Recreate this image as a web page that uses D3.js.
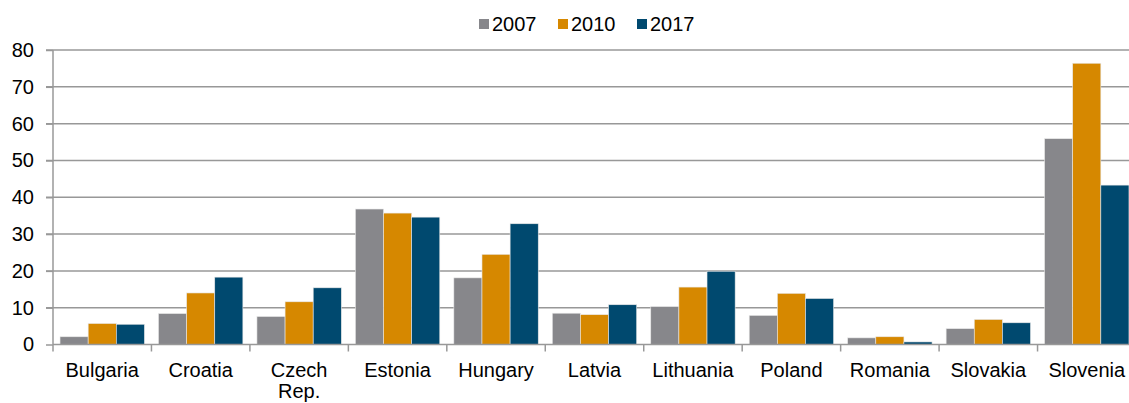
<!DOCTYPE html>
<html>
<head>
<meta charset="utf-8">
<script src="https://cdn.jsdelivr.net/npm/d3@7"></script>
<style>
  body { margin: 0; background: #fff; }
  text { font-family: "Liberation Sans", Arial, sans-serif; fill: #000; }
</style>
</head>
<body>
<svg id="chart" width="1129" height="403"></svg>
<script>
const countries = ['Bulgaria', 'Croatia', 'Czech Rep.', 'Estonia', 'Hungary', 'Latvia',
  'Lithuania', 'Poland', 'Romania', 'Slovakia', 'Slovenia'];
const years = ['2007', '2010', '2017'];
const v2007 = [2.1, 8.4, 7.6, 36.8, 18.1, 8.5, 10.3, 7.9, 1.8, 4.3, 55.9];
const v2010 = [5.7, 14.0, 11.6, 35.7, 24.5, 8.1, 15.6, 13.9, 2.1, 6.8, 76.4];
const v2017 = [5.5, 18.3, 15.4, 34.6, 32.8, 10.8, 19.9, 12.5, 0.7, 5.9, 43.3];
const yTicks = [0, 10, 20, 30, 40, 50, 60, 70, 80];
const colors = ['#87878b', '#d68800', '#00496f'];

const series = [v2007, v2010, v2017];
const data = countries.map((c, i) => ({ country: c, values: series.map(s => s[i]) }));

const svg = d3.select('#chart');
const margin = { top: 50, left: 53 };
const plotRight = 1136, plotBottom = 344.5;
const fontSize = '20px';

const x = d3.scaleBand().domain(countries).range([margin.left, plotRight]).paddingInner(0).paddingOuter(0);
const x1 = d3.scaleBand().domain(years).range([0, x.bandwidth()]).paddingOuter(0.25).paddingInner(0);
const y = d3.scaleLinear().domain([0, 80]).range([plotBottom, margin.top]);

// gridlines
svg.append('g')
  .selectAll('line')
  .data(yTicks.slice(1))
  .enter().append('line')
  .attr('x1', margin.left - 7)
  .attr('x2', 1129)
  .attr('y1', d => y(d))
  .attr('y2', d => y(d))
  .attr('stroke', '#989898')
  .attr('stroke-width', 1.5);

// y axis
const yAxis = svg.append('g')
  .attr('transform', `translate(${margin.left},0)`)
  .call(d3.axisLeft(y).tickValues(yTicks).tickSize(7).tickPadding(12));
yAxis.select('.domain').attr('stroke', '#989898').attr('stroke-width', 1.5).attr('d', `M0,${plotBottom}V${margin.top}`);
yAxis.selectAll('.tick line').attr('stroke', '#989898').attr('stroke-width', 1.5);
yAxis.selectAll('.tick text').style('font-size', fontSize).attr('font-family', null);

// bars
const groups = svg.append('g')
  .selectAll('g')
  .data(data)
  .enter().append('g')
  .attr('transform', d => `translate(${x(d.country)},0)`);

groups.selectAll('rect')
  .data(d => d.values.map((v, i) => ({ year: years[i], value: v, i })))
  .enter().append('rect')
  .attr('x', d => x1(d.year))
  .attr('y', d => y(d.value))
  .attr('width', x1.bandwidth())
  .attr('height', d => plotBottom - y(d.value))
  .attr('fill', d => colors[d.i])
  .attr('stroke', '#e8e8e8')
  .attr('stroke-width', 0.6);

// x axis
const xAxis = svg.append('g')
  .attr('transform', `translate(0,${plotBottom})`);
xAxis.append('line')
  .attr('x1', margin.left).attr('x2', 1129)
  .attr('stroke', '#989898').attr('stroke-width', 1.5);
xAxis.selectAll('.xtick')
  .data(countries)
  .enter().append('line')
  .attr('x1', d => x(d)).attr('x2', d => x(d))
  .attr('y1', 0).attr('y2', 7)
  .attr('stroke', '#989898').attr('stroke-width', 1.5);

xAxis.selectAll('.xlabel')
  .data(countries)
  .enter().append('text')
  .attr('text-anchor', 'middle')
  .style('font-size', fontSize)
  .attr('x', d => x(d) + x.bandwidth() / 2)
  .attr('y', 32)
  .each(function(d) {
    const parts = d === 'Czech Rep.' ? ['Czech', 'Rep.'] : [d];
    parts.forEach((p, k) => {
      d3.select(this).append('tspan')
        .attr('x', x(d) + x.bandwidth() / 2)
        .attr('dy', k === 0 ? 0 : 21.5)
        .text(p);
    });
  });

// legend
const legendX = [479, 558, 637];
const legend = svg.append('g');
years.forEach((yr, i) => {
  legend.append('rect')
    .attr('x', legendX[i]).attr('y', 19)
    .attr('width', 10).attr('height', 10)
    .attr('fill', colors[i]);
  legend.append('text')
    .attr('x', legendX[i] + 13).attr('y', 30.5)
    .style('font-size', fontSize)
    .text(yr);
});
</script>
</body>
</html>
